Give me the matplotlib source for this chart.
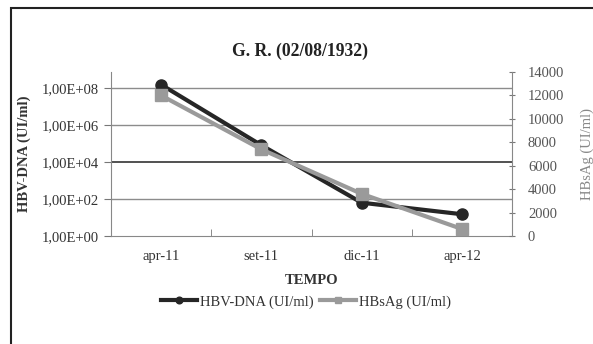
import numpy as np
import matplotlib.pyplot as plt
from matplotlib.patches import Rectangle

plt.rcParams['font.family'] = ['Liberation Serif', 'DejaVu Serif']

# dati
mesi = ['apr-11', 'set-11', 'dic-11', 'apr-12']
hbv_dna = [1.5e8, 8.0e4, 63, 15]        # UI/ml, asse log sinistro
hbsag = [12000, 7400, 3600, 600]        # UI/ml, asse destro
yticks_sx = [1e0, 1e2, 1e4, 1e6, 1e8]
yticks_sx_lab = ['1,00E+00', '1,00E+02', '1,00E+04', '1,00E+06', '1,00E+08']
yticks_dx = [0, 2000, 4000, 6000, 8000, 10000, 12000, 14000]

W, H = 593, 344
fig = plt.figure(figsize=(W / 100, H / 100), dpi=100)

# cornice esterna (tagliata a destra e in basso)
fig.patches.append(Rectangle((11 / W, -0.05), 1.2, (344 - 8) / H + 0.05,
                             transform=fig.transFigure, fill=False,
                             edgecolor='#222222', linewidth=1.5))

ax = fig.add_axes([111 / W, (H - 236) / H, (512 - 111) / W, (236 - 72) / H])
x = np.arange(len(mesi))

ax.set_yscale('log')
ax.set_ylim(1, 10 ** 8.86)
ax.set_xlim(-0.5, 3.5)
ax.set_yticks(yticks_sx)
ax.set_yticklabels(yticks_sx_lab)
ax.minorticks_off()
ax.set_xticks(x)
ax.set_xticklabels(mesi)
ax.set_xticks(np.arange(-0.5, 4.0, 1.0), minor=True)
ax.tick_params(axis='x', which='major', length=0, pad=10, labelsize=10.5, colors='#333333')
ax.tick_params(axis='x', which='minor', length=5, color='#777777', direction='in')
ax.tick_params(axis='y', length=5, color='#777777', labelsize=10.5, labelcolor='#333333')

for v in [1e2, 1e6, 1e8]:
    ax.axhline(v, color='#8c8c8c', linewidth=1.0, zorder=0)
ax.axhline(1e4, color='#333333', linewidth=1.2, zorder=0)

for s in ['top', 'right']:
    ax.spines[s].set_visible(False)
ax.spines['left'].set_color('#888888')
ax.spines['bottom'].set_color('#888888')

ax2 = ax.twinx()
ax2.set_ylim(0, 14000)
ax2.set_yticks(yticks_dx)
ax2.tick_params(axis='y', length=5, color='#777777', labelsize=10.5, labelcolor='#555555',
                direction='inout', pad=9)
for s in ['top', 'left', 'bottom']:
    ax2.spines[s].set_visible(False)
ax2.spines['right'].set_color('#888888')

l1, = ax.plot(x, hbv_dna, color='#262626', linewidth=3, marker='o', markersize=8,
              label='HBV-DNA (UI/ml)', zorder=3)
l2, = ax2.plot(x, hbsag, color='#9a9a9a', linewidth=3, marker='s', markersize=8,
               label='HBsAg (UI/ml)', zorder=3)

ax.set_ylabel('HBV-DNA (UI/ml)', fontsize=10.5, fontweight='bold', color='#333333', labelpad=8)
ax2.set_ylabel('HBsAg (UI/ml)', fontsize=10.5, color='#888888', labelpad=12)
ax.set_xlabel('TEMPO', fontsize=10.5, fontweight='bold', color='#333333', labelpad=8)

fig.text(300 / W, 1 - 51 / H, 'G. R. (02/08/1932)', ha='center', va='center',
         fontsize=12.7, fontweight='bold', color='#222222')

fig.legend(handles=[l1, l2], loc='center', bbox_to_anchor=(306 / W, 1 - 302 / H),
           ncol=2, frameon=False, fontsize=10.5, handlelength=2.5, handletextpad=0.2,
           columnspacing=0.4, markerscale=0.6, labelcolor='#333333')

fig.savefig('out.png', dpi=100)
